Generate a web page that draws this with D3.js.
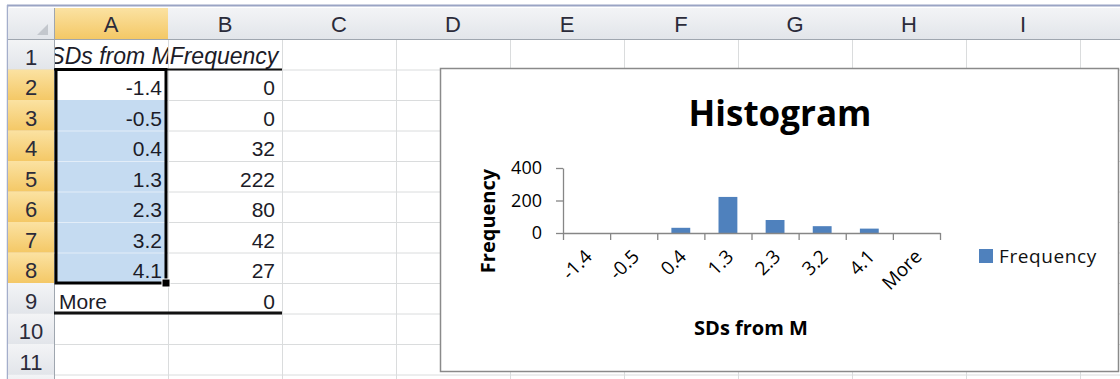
<!DOCTYPE html>
<html>
<head>
<meta charset="utf-8">
<script src="https://cdn.jsdelivr.net/npm/d3@7"></script>
<style>
  html, body { margin: 0; padding: 0; background: #fff; }
  svg { display: block; }
</style>
</head>
<body>
<svg id="sheet" width="1120" height="379"></svg>
<script>
// Worksheet contents
const columnLetters = ["A", "B", "C", "D", "E", "F", "G", "H", "I", "J"];
const rowNumbers = [1, 2, 3, 4, 5, 6, 7, 8, 9, 10, 11, 12];
const headerLabels = ["SDs from M", "Frequency"];

// Histogram bins and counts
const bins = ["-1.4", "-0.5", "0.4", "1.3", "2.3", "3.2", "4.1", "More"];
const frequency = [0, 0, 32, 222, 80, 42, 27, 0];
const yTicks = [0, 200, 400];

const chartTitle = "Histogram";
const xTitle = "SDs from M";
const yTitle = "Frequency";
const seriesName = "Frequency";

const W = 1120, H = 379;
const svg = d3.select("#sheet");
const defs = svg.append("defs");

// ---------- grid geometry ----------
const colLeft = 54, colW = 114;
const headTop = 8, headBottom = 39;
const rowTop0 = 39, rowH = 30.5;
const colX = i => colLeft + i * colW;          // left edge of column i
const rowY = r => rowTop0 + (r - 1) * rowH;     // top edge of row r

const orange = defs.append("linearGradient").attr("id", "selHead").attr("x1", 0).attr("y1", 0).attr("x2", 0).attr("y2", 1);
orange.append("stop").attr("offset", "0%").attr("stop-color", "#fbe2a2");
orange.append("stop").attr("offset", "100%").attr("stop-color", "#f4c866");
const gray = defs.append("linearGradient").attr("id", "head").attr("x1", 0).attr("y1", 0).attr("x2", 0).attr("y2", 1);
gray.append("stop").attr("offset", "0%").attr("stop-color", "#f3f4f6");
gray.append("stop").attr("offset", "100%").attr("stop-color", "#e2e5ea");

// outer frame
svg.append("rect").attr("x", 0).attr("y", 0).attr("width", W).attr("height", H).attr("fill", "#fff");
svg.append("line").attr("x1", 7).attr("x2", W).attr("y1", 5.5).attr("y2", 5.5).attr("stroke", "#9aa4c4").attr("stroke-width", 2);
svg.append("line").attr("x1", 7.5).attr("x2", 7.5).attr("y1", 5).attr("y2", H).attr("stroke", "#a4aecb").attr("stroke-width", 1.5);

// cell gridlines
const grid = svg.append("g").attr("stroke", "#dadcdd").attr("stroke-width", 1);
columnLetters.forEach((c, i) => {
  grid.append("line").attr("x1", colX(i + 1) + 0.5).attr("x2", colX(i + 1) + 0.5).attr("y1", headBottom).attr("y2", H);
});
rowNumbers.forEach(r => {
  grid.append("line").attr("x1", colLeft).attr("x2", W).attr("y1", rowY(r + 1) + 0.5).attr("y2", rowY(r + 1) + 0.5);
});

const labelFont = "Liberation Sans, Arial, sans-serif";

// column headers (letters only where the column's centre is on screen)
const colHead = svg.append("g");
columnLetters.forEach((c, i) => {
  const sel = i === 0;
  colHead.append("rect").attr("x", colX(i)).attr("y", headTop).attr("width", colW).attr("height", headBottom - headTop)
    .attr("fill", sel ? "url(#selHead)" : "url(#head)");
  colHead.append("line").attr("x1", colX(i + 1) + 0.5).attr("x2", colX(i + 1) + 0.5).attr("y1", headTop).attr("y2", headBottom)
    .attr("stroke", "#b9bec6");
  if (colX(i) + colW / 2 < W - 10) {
    colHead.append("text").attr("x", colX(i) + colW / 2).attr("y", 32).attr("text-anchor", "middle")
      .attr("font-family", labelFont).attr("font-size", 22).attr("fill", "#2b2b3a").text(c);
  }
});
// corner cell
colHead.append("rect").attr("x", 8).attr("y", headTop).attr("width", colLeft - 8).attr("height", headBottom - headTop).attr("fill", "url(#head)");
colHead.append("path").attr("d", "M48,24L48,35L37,35Z").attr("fill", "#c3c7cd");

// row headers (numbers only for rows fully on screen)
const rowHead = svg.append("g");
rowNumbers.forEach(r => {
  const sel = r >= 2 && r <= 8;
  rowHead.append("rect").attr("x", 8).attr("y", rowY(r)).attr("width", colLeft - 8).attr("height", rowH)
    .attr("fill", sel ? "url(#selHead)" : "url(#head)");
  rowHead.append("line").attr("x1", 8).attr("x2", colLeft).attr("y1", rowY(r + 1) + 0.5).attr("y2", rowY(r + 1) + 0.5)
    .attr("stroke", sel ? "#e0b35a" : "#c4c9d0");
  if (rowY(r + 1) <= H) {
    rowHead.append("text").attr("x", 31).attr("y", rowY(r + 1) - 5).attr("text-anchor", "middle")
      .attr("font-family", labelFont).attr("font-size", 22).attr("fill", "#2b2b3a").text(r);
  }
});
svg.append("line").attr("x1", 8).attr("x2", W).attr("y1", headBottom + 0.5).attr("y2", headBottom + 0.5).attr("stroke", "#9fa6af");
svg.append("line").attr("x1", colLeft + 0.5).attr("x2", colLeft + 0.5).attr("y1", headTop).attr("y2", H).attr("stroke", "#9fa6af");

// selection fill (A3:A8), A2 is the active cell
svg.append("rect").attr("x", colX(0) + 1).attr("y", rowY(3)).attr("width", colW - 2).attr("height", rowY(9) - rowY(3))
  .attr("fill", "#c5dbf1");
const selLines = svg.append("g").attr("stroke", "#e3edf8").attr("stroke-width", 1);
d3.range(4, 9).forEach(r => selLines.append("line").attr("x1", colX(0)).attr("x2", colX(1)).attr("y1", rowY(r) + 0.5).attr("y2", rowY(r) + 0.5));

// cell text
const cells = svg.append("g").attr("font-family", labelFont).attr("font-size", 21).attr("fill", "#1c1c28");
headerLabels.forEach((t, i) => {
  defs.append("clipPath").attr("id", "clip" + i).append("rect")
    .attr("x", colX(i) + 1).attr("y", rowY(1)).attr("width", colW - 1).attr("height", rowH);
  cells.append("text").attr("clip-path", "url(#clip" + i + ")").attr("x", colX(i) + colW / 2 - 1).attr("y", rowY(2) - 6)
    .attr("text-anchor", "middle").attr("font-style", "italic").attr("font-size", 23).text(t);
});
bins.forEach((b, k) => {
  const r = k + 2;
  if (b === "More") {
    cells.append("text").attr("x", colX(0) + 5).attr("y", rowY(r + 1) - 5).text(b);
  } else {
    cells.append("text").attr("x", colX(1) - 6).attr("y", rowY(r + 1) - 5).attr("text-anchor", "end").text(b);
  }
  cells.append("text").attr("x", colX(2) - 7).attr("y", rowY(r + 1) - 5).attr("text-anchor", "end").text(frequency[k]);
});

// borders under the header row and the last bin
svg.append("line").attr("x1", colX(0)).attr("x2", colX(2)).attr("y1", rowY(2)).attr("y2", rowY(2)).attr("stroke", "#111").attr("stroke-width", 2);
svg.append("line").attr("x1", colX(0)).attr("x2", colX(2)).attr("y1", rowY(10) - 0.5).attr("y2", rowY(10) - 0.5).attr("stroke", "#111").attr("stroke-width", 3);

// selection outline + fill handle
svg.append("rect").attr("x", colX(0) + 2).attr("y", rowY(2)).attr("width", colW - 4).attr("height", rowY(9) - rowY(2))
  .attr("fill", "none").attr("stroke", "#000").attr("stroke-width", 3);
svg.append("rect").attr("x", colX(1) - 6).attr("y", rowY(9) - 4).attr("width", 8).attr("height", 8).attr("fill", "#000")
  .attr("stroke", "#fff").attr("stroke-width", 1);

// ---------- embedded chart ----------
const chart = svg.append("g");
chart.append("rect").attr("x", 440.5).attr("y", 68.5).attr("width", 678).attr("height", 303)
  .attr("fill", "#fff").attr("stroke", "#8a8a8a").attr("stroke-width", 1.5);

const chartFont = "'Open Sans', 'Noto Sans', sans-serif";
const x0 = 563, x1 = 940, yBase = 233, yTop = 168;

const x = d3.scaleBand().domain(bins).range([x0, x1]).paddingInner(0.6).paddingOuter(0.3);
const xEdge = d3.scaleLinear().domain([0, bins.length]).range([x0, x1]);
const y = d3.scaleLinear().domain([0, 400]).range([yBase, yTop]);

chart.append("text").attr("x", 780).attr("y", 126).attr("text-anchor", "middle")
  .attr("font-family", chartFont).attr("font-weight", 700).attr("font-size", 35).attr("fill", "#000").text(chartTitle);

// bars
chart.append("g").selectAll("rect").data(bins).join("rect")
  .attr("x", d => x(d)).attr("width", x.bandwidth())
  .attr("y", (d, i) => y(frequency[i])).attr("height", (d, i) => yBase - y(frequency[i]))
  .attr("fill", "#4f81bd");

// y axis
const yAxis = chart.append("g").attr("transform", `translate(${x0},0)`)
  .call(d3.axisLeft(y).tickValues(yTicks).tickSizeInner(7).tickSizeOuter(0).tickPadding(14));
yAxis.selectAll("path,line").attr("stroke", "#868686").attr("stroke-width", 1.3);
yAxis.selectAll("text").attr("font-family", chartFont).attr("font-size", 18).attr("fill", "#000");

// x axis: ticks between categories
const xAxis = chart.append("g").attr("transform", `translate(0,${yBase})`)
  .call(d3.axisBottom(xEdge).tickValues(d3.range(bins.length + 1)).tickFormat("").tickSizeInner(7).tickSizeOuter(0));
xAxis.selectAll("path,line").attr("stroke", "#868686").attr("stroke-width", 1.3);

// rotated category labels
chart.append("g").selectAll("text").data(bins).join("text")
  .attr("transform", d => `translate(${x(d) + x.bandwidth() / 2 + 2},${yBase + 20}) rotate(-45)`)
  .attr("text-anchor", "end").attr("dy", "0.35em")
  .attr("font-family", chartFont).attr("font-size", 19).attr("fill", "#000").text(d => d);

// axis titles
chart.append("text").attr("x", 751).attr("y", 335).attr("text-anchor", "middle")
  .attr("font-family", chartFont).attr("font-weight", 700).attr("font-size", 20).text(xTitle);
chart.append("text").attr("transform", "translate(495,221) rotate(-90)").attr("text-anchor", "middle")
  .attr("font-family", chartFont).attr("font-weight", 700).attr("font-size", 20).text(yTitle);

// legend
chart.append("rect").attr("x", 979).attr("y", 249).attr("width", 14).attr("height", 14).attr("fill", "#4f81bd");
chart.append("text").attr("x", 999).attr("y", 263).attr("font-family", chartFont).attr("font-size", 19)
  .attr("letter-spacing", 0.6).attr("fill", "#111").text(seriesName);
</script>
</body>
</html>
